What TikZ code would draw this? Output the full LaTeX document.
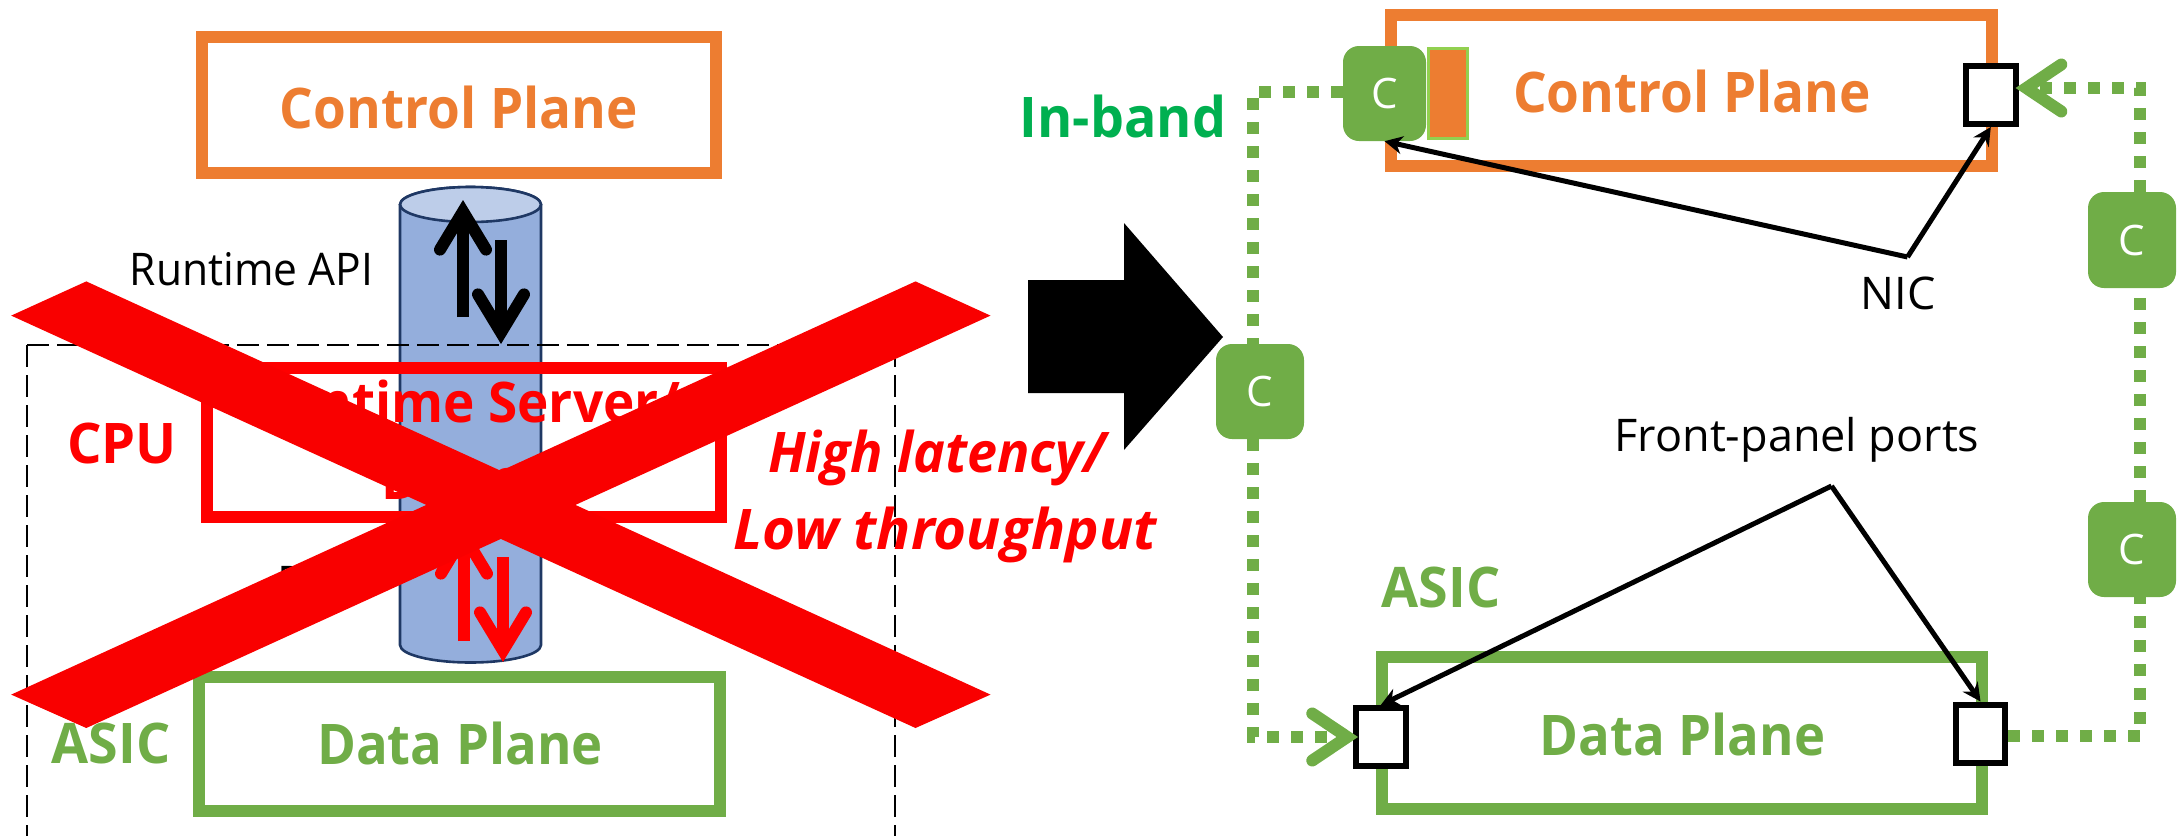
\documentclass[tikz,border=0pt]{standalone}
\usepackage{fontspec}
\usepackage{graphicx}
\setmainfont{Open Sans}
\usetikzlibrary{arrows.meta}
\definecolor{cporange}{HTML}{ED7D31}
\definecolor{dpgreen}{HTML}{70AD47}
\definecolor{bandgreen}{HTML}{00B050}
\definecolor{xred}{HTML}{F90000}
\definecolor{cylfill}{HTML}{94AEDC}
\definecolor{cyltop}{HTML}{BDCDE9}
\definecolor{cylline}{HTML}{1F3864}
\definecolor{sliver}{HTML}{92D050}
\newcommand{\fs}[1]{\fontsize{#1}{#1}\selectfont}
\newcommand{\sq}[2]{\scalebox{#1}[1]{#2}}
\tikzset{
  plane/.style={draw=#1,line width=12pt,inner sep=0pt,rectangle},
  big/.style={inner sep=0pt,font=\fs{56}\bfseries},
  slanted big/.style={inner sep=0pt,font=\fs{56}\bfseries\itshape,text=red,anchor=base west},
  thin label/.style={inner sep=0pt,font=\fs{45},text=black},
  port/.style={draw=black,fill=white,line width=6pt,inner sep=0pt},
  cbox/.style={fill=dpgreen,rounded corners=16pt,inner sep=0pt,text=white,font=\fs{42}},
  dotline/.style={draw=dpgreen,line width=12pt,dash pattern=on 12pt off 12pt},
  openhead/.style={dotline,-{Straight Barb[length=35pt,width=47pt,line cap=round,line join=miter]}},
  bigarrowup/.style={line width=12pt,-{Straight Barb[length=38pt,width=46pt,line cap=round,line join=miter]}},
  callout/.style={draw=black,line width=5pt,-{Stealth[length=18pt,width=18pt]}},
}
\begin{document}
\begin{tikzpicture}[x=1pt,y=-1pt]
\useasboundingbox (0,0) rectangle (2182,836);
\clip (0,0) rectangle (2182,836);
% cylinder
\draw[fill=cylfill,draw=cylline,line width=2.6pt] (400,204.5) -- (400,645)
   arc[start angle=180,end angle=360,x radius=70.5pt,y radius=17.5pt] -- (541,204.5)
   arc[start angle=0,end angle=180,x radius=70.5pt,y radius=17.5pt] -- cycle;
\draw[fill=cyltop,draw=cylline,line width=2.6pt] (470.5,204.5) ellipse[x radius=70.5pt,y radius=17.5pt];
% dashed CPU box
\coordinate (dbl) at (27,836); \coordinate (dtl) at (27,345);
\coordinate (dtr) at (895,345); \coordinate (dbr) at (895,836);
\draw[line width=2.7pt,dash pattern=on 22pt off 8pt] (dtl) -- (dtr);
\draw[line width=2.7pt,dash pattern=on 22pt off 8pt] (dtl) -- (dbl);
\draw[line width=2.7pt,dash pattern=on 22pt off 8pt] (dtr) -- (dbr);
% left column
\node[plane=cporange,minimum width=514pt,minimum height=136pt] (lcp) at (459,105) {};
\node[big,text=cporange] (lcpt) at (459,107) {\sq{.947}{Control Plane}};
\node[plane=red,minimum width=513.5pt,minimum height=149pt] (lsrv) at (464,442.5) {};
\node[big,text=red,align=center] (lsrvt) at (464,401) {\sq{.947}{Runtime Server/}};
\node[big,text=red] (ldrv) at (464,478) {\sq{.947}{Driver}};
\node[big,text=red] (lcpu) at (122,443) {\sq{.97}{CPU}};
\node[plane=dpgreen,minimum width=521pt,minimum height=134pt] (ldp) at (459.5,743.5) {};
\node[big,text=dpgreen] (ldpt) at (460,743) {\sq{.94}{Data Plane}};
\node[big,text=dpgreen] (lasic) at (111,743) {\sq{.96}{ASIC}};
\node[thin label] (api) at (251.5,269) {\sq{.945}{Runtime API}};
\node[thin label,anchor=west] (pcie) at (277,582) {PCIe};
% thick arrows
\coordinate (bua) at (463,317); \coordinate (bub) at (463,200);
\coordinate (bda) at (501,240); \coordinate (bdb) at (501,344);
\coordinate (rua) at (464,641); \coordinate (rub) at (464,524);
\coordinate (rda) at (503,557); \coordinate (rdb) at (503,662);
\draw[bigarrowup,black] (bua) -- (bub);
\draw[bigarrowup,black] (bda) -- (bdb);
\draw[bigarrowup,red] (rua) -- (rub);
\draw[bigarrowup,red] (rda) -- (rdb);
% the big X
\fill[xred] (86.3,281.4) -- (11.2,315.6) -- (915.5,728) -- (990.5,694.6) -- cycle;
\fill[xred] (11.2,694.6) -- (86.3,728) -- (990.5,315.6) -- (915.5,281.4) -- cycle;
% slogan
\node[slanted big] (hl) at (768,472) {\sq{.96}{High latency/}};
\node[slanted big] (lt) at (733,549) {\sq{1.01}{Low throughput}};
% block arrow
\fill[black] (1028,280) -- (1124,280) -- (1124,223) -- (1223,337) -- (1124,450) -- (1124,393) -- (1028,393) -- cycle;
\node[big,text=bandgreen] (inband) at (1123,116) {\sq{.96}{In-band}};
% right column
\node[plane=cporange,minimum width=601pt,minimum height=151.5pt] (rcp) at (1691.5,90.3) {};
\node[big,text=cporange] (rcpt) at (1692,91) {\sq{.947}{Control Plane}};
\node[plane=dpgreen,minimum width=600pt,minimum height=151.5pt] (rdp) at (1682,732.8) {};
\node[big,text=dpgreen] (rdpt) at (1682.5,734.5) {\sq{.94}{Data Plane}};
\node[big,text=dpgreen] (rasic) at (1441,587) {\sq{.96}{ASIC}};
\node[fill=cporange,draw=sliver,line width=2.5pt,inner sep=0pt,minimum width=39pt,minimum height=90pt] (sliver) at (1448,93.5) {};
\node[port,minimum width=49.5pt,minimum height=58pt] (ptr) at (1990.8,95) {};
\node[port,minimum width=49.5pt,minimum height=58pt] (pbl) at (1380.8,737) {};
\node[port,minimum width=49pt,minimum height=58pt] (pbr) at (1980.5,733.5) {};
\node[cbox,minimum width=83pt,minimum height=95pt] (ctop) at (1384.5,93.5) {C};
\node[cbox,minimum width=88pt,minimum height=95pt] (cmid) at (1260,391.5) {C};
\node[cbox,minimum width=88pt,minimum height=96pt] (cr1) at (2132,240) {C};
\node[cbox,minimum width=88pt,minimum height=95pt] (cr2) at (2132,549.5) {C};
% dotted in-band path
\coordinate (la) at (1253,92); \coordinate (lb) at (1253,737);
\coordinate (ra) at (2140,88); \coordinate (rb) at (2140,735.6);
\draw[dotline] (ctop.west |- la) -- (la) -- (la |- cmid.north);
\draw[openhead] (la |- cmid.south) -- (lb) -- ([xshift=5pt]pbl.west);
\draw[dotline] (pbr.east |- rb) -- (rb) -- (rb |- cr2.south);
\draw[dotline] (ra |- cr2.north) -- (ra |- cr1.south);
\draw[openhead] (ra |- cr1.north) -- (ra) -- ([xshift=-3pt]ptr.east |- ra);
% callouts
\node[thin label] (nic) at (1898,293) {NIC};
\node[thin label] (fpp) at (1797,440) {Front-panel ports};
\coordinate (nicapex) at (1907.5,257);
\coordinate (fpapex) at (1831.5,486);
\draw[callout] (nicapex) -- (ctop.south);
\draw[callout] (nicapex) -- (ptr.south);
\draw[callout] (fpapex) -- (pbl.north);
\draw[callout] (fpapex) -- (pbr.north);
\end{tikzpicture}
\end{document}
